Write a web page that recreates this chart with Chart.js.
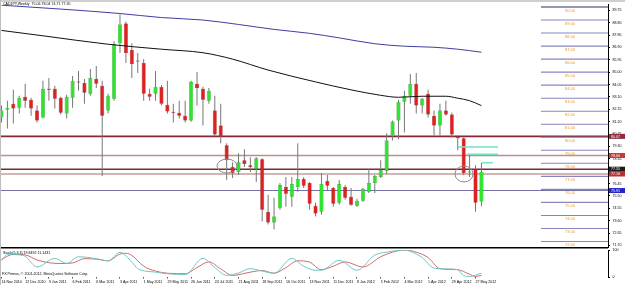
<!DOCTYPE html>
<html>
<head>
<meta charset="utf-8">
<script src="https://cdn.jsdelivr.net/npm/chart.js@4.4.1/dist/chart.umd.min.js"></script>
<style>
  html, body { margin:0; padding:0; background:#fff; }
  body { width:625px; height:285px; position:relative; overflow:hidden; }
  #mainChart { position:absolute; left:0; top:0; }
  #stochChart { position:absolute; left:0; top:244px; }
  .frameTop { position:absolute; left:0; top:0; width:625px; height:2px; background:#cfcfcf; }
  .frameLeft { position:absolute; left:0; top:0; width:1px; height:285px; background:#bdbdbd; }
</style>
</head>
<body>
<canvas id="mainChart" width="625" height="252"></canvas>
<canvas id="stochChart" width="625" height="41"></canvas>
<div class="frameTop"></div><div class="frameLeft"></div>
<script>
var symbolTitle = "CADJPY,Weekly  75.06 78.04 74.71 77.35";
var stochTitle = "Stoch(5,3,3) 19.8492 11.1431";
var copyright = "FX Primus, \u00a9 2001-2012, MetaQuotes Software Corp.";

// weekly candles, 14 Nov 2010 .. 3 Jun 2012
var opens = [81.51, 82.12, 82.58, 82.27, 83.11, 82.88, 82.05, 81.51, 83.72, 83.72,
	83.03, 81.82, 83.03, 84.25, 84.17, 83.34, 84.48, 83.95, 82.05, 82.96,
	87.22, 88.74, 86.69, 85.85, 85.70, 83.34, 83.34, 83.87, 82.50, 81.93,
	81.89, 81.66, 81.28, 84.10, 83.72, 82.81, 82.05, 80.90, 79.38, 77.71,
	77.33, 78.24, 77.86, 77.56, 78.32, 74.29, 73.45, 74.59, 76.19, 75.43,
	76.19, 76.80, 76.49, 74.74, 74.29, 76.65, 76.11, 74.97, 76.19, 75.43,
	74.74, 75.12, 75.81, 76.49, 76.95, 77.41, 80.07, 81.28, 82.73, 83.19,
	84.10, 82.43, 83.34, 81.66, 80.90, 82.05, 81.74, 80.07, 79.92, 77.30,
	77.56, 75.06];
var highs = [82.43, 82.81, 83.64, 83.19, 84.10, 83.03, 82.43, 84.33, 84.55, 83.95,
	83.11, 83.26, 84.71, 85.09, 84.48, 85.24, 85.47, 84.33, 83.34, 87.37,
	89.42, 88.89, 87.22, 86.46, 86.00, 83.72, 85.09, 84.02, 84.33, 82.58,
	82.81, 82.81, 84.33, 85.01, 83.87, 83.79, 83.19, 82.58, 79.54, 78.09,
	78.77, 79.08, 78.47, 78.47, 78.39, 75.58, 75.35, 76.49, 76.95, 76.95,
	79.54, 76.95, 76.57, 74.97, 77.25, 77.10, 76.19, 76.72, 76.34, 76.11,
	75.28, 76.11, 77.56, 77.10, 78.24, 80.30, 81.28, 82.88, 83.57, 84.86,
	84.93, 83.03, 83.64, 82.05, 82.58, 82.81, 81.89, 80.14, 79.99, 78.70,
	77.86, 78.04];
var lows = [81.13, 80.68, 81.06, 81.82, 82.27, 81.66, 81.13, 81.44, 82.81, 82.20,
	81.74, 81.44, 82.27, 83.57, 82.58, 83.19, 83.79, 77.03, 81.82, 82.81,
	86.46, 85.70, 84.55, 84.93, 82.81, 82.81, 82.81, 82.43, 81.82, 81.13,
	81.44, 81.13, 81.20, 82.43, 80.90, 82.58, 80.07, 79.54, 76.72, 76.87,
	77.10, 77.71, 77.33, 76.57, 73.53, 73.30, 72.92, 74.44, 74.67, 74.67,
	75.81, 76.11, 74.44, 73.91, 74.06, 75.96, 74.67, 74.82, 75.20, 74.74,
	74.67, 75.05, 75.73, 75.73, 76.87, 77.18, 79.76, 79.84, 80.37, 82.58,
	81.82, 81.82, 81.51, 80.14, 80.14, 81.66, 79.99, 79.00, 77.10, 76.95,
	74.29, 74.71];
var closes = [82.05, 82.27, 82.20, 83.03, 82.81, 82.20, 81.28, 83.72, 83.64, 82.96,
	81.89, 83.11, 84.33, 84.21, 83.41, 84.55, 84.10, 81.66, 83.19, 87.14,
	88.66, 86.46, 85.62, 85.81, 83.34, 83.11, 83.87, 82.58, 81.97, 81.89,
	81.66, 81.28, 84.25, 83.79, 82.88, 83.57, 80.22, 80.07, 78.24, 77.25,
	78.09, 77.94, 77.71, 78.39, 74.44, 73.45, 73.91, 76.34, 75.66, 76.42,
	76.80, 76.27, 74.90, 74.14, 76.42, 76.27, 74.90, 76.42, 75.35, 74.82,
	75.12, 76.04, 76.49, 77.03, 77.48, 79.76, 81.21, 82.73, 83.19, 84.10,
	82.43, 82.96, 81.74, 80.90, 82.05, 81.74, 80.22, 79.92, 77.25, 77.33,
	74.97, 77.35];

var dateLabels = ["14 Nov 2010", "12 Dec 2010", "9 Jan 2011", "6 Feb 2011", "6 Mar 2011",
	"3 Apr 2011", "1 May 2011", "29 May 2011", "26 Jun 2011", "24 Jul 2011", "21 Aug 2011",
	"18 Sep 2011", "16 Oct 2011", "13 Nov 2011", "11 Dec 2011", "8 Jan 2012", "5 Feb 2012",
	"4 Mar 2012", "1 Apr 2012", "29 Apr 2012", "27 May 2012"];
var dateIdx = [0, 4, 8, 12, 16, 20, 24, 28, 32, 36, 40, 44, 48, 52, 56, 60, 64, 68, 72, 76, 80];

var priceTicks = [89.75, 88.80, 87.85, 86.90, 85.95, 85.00, 84.05, 83.10, 82.15, 81.20,
	80.25, 79.30, 78.35, 77.40, 76.45, 75.50, 74.55, 73.60, 72.65, 71.70];

var blueMaIdx = [0, 10, 20, 27, 34, 40, 46, 52, 57, 63, 68, 73, 77, 81];
var blueMaVal = [90.14, 89.84, 89.50, 89.19, 89.00, 88.66, 88.28, 87.98, 87.63, 87.18, 86.99, 86.91, 86.76, 86.53];
var blackMaIdx = [0, 7, 18, 27, 34, 39, 45, 53, 59, 64, 67, 71, 75, 77, 79, 81];
var blackMaVal = [88.20, 87.79, 87.14, 86.76, 86.49, 86.00, 85.16, 84.25, 83.64, 83.22, 83.07, 83.15, 83.15, 83.00, 82.81, 82.43];

var stochMainIdx = [0, 1, 3, 4, 6, 9, 11, 13, 16, 18, 20, 22, 23, 26, 28, 31, 34, 36, 38, 40, 42, 44, 46, 49, 51, 53, 54, 57, 60, 63, 65, 68, 70, 71, 73, 75, 77, 78, 79, 81];
var stochMainVal = [60, 84, 82, 77, 37, 69, 50, 75, 68, 60, 91, 55, 31, 18, 12, 9, 69, 35, 6, 15, 31, 22, 14, 69, 40, 25, 25, 62, 25, 81, 92, 100, 85, 72, 33, 30, 27, 5, 2, 14];
var stochSignalIdx = [0, 2, 4, 6, 8, 10, 12, 14, 16, 18, 20, 21, 22, 24, 26, 28, 31, 33, 35, 37, 39, 42, 44, 46, 48, 50, 52, 54, 56, 58, 61, 64, 66, 68, 70, 72, 74, 77, 79, 80, 81];
var stochSignalVal = [65, 84, 82, 63, 53, 50, 52, 68, 66, 60, 85, 88, 80, 40, 22, 14, 12, 35, 56, 30, 6, 18, 24, 14, 35, 60, 55, 27, 40, 56, 37, 75, 92, 100, 92, 72, 31, 27, 10, 2, 6];

// horizontal levels across the whole chart
var levelPrices = [80.07, 78.60, 77.55, 77.18, 75.91];
var levelColors = ['#842838', '#c08c8c', '#7a2838', '#c49c9c', '#7272a6'];
var levelWidths = [1.6, 1.5, 1.4, 1.5, 1.1];
var boxColors = ['#8e2c3c', '#c23a3a', '#1c1c1c', '#b83232', '#2424c8'];

// grid object on the right side
var gridLevels = [90, 89, 88, 87, 86, 85, 84, 83, 82, 81, 80, 79, 78, 77, 76, 75, 74, 73, 72];
var gridStartIdx = 91.05;
var gridLabelIdx = 95.95;

// cyan stop lines [fromIdx, toIdx, price]
var cyanSegments = [[77.05, 83.8, 79.25], [78.57, 83.8, 78.70], [81.1, 82.95, 78.04]];
// ellipses [idx, price, rx px, ry px]
var circles = [[38.06, 77.79, 10, 7], [78.06, 77.18, 9, 8]];

var xMin = -0.08, xMax = 102.36;
var yMin = 71.55, yMax = 90.18;
var tinyFont = { family: 'Liberation Sans', size: 3.6 };

var bodyData = opens.map(function(o, i) { return { x: i, y: [o, closes[i]] }; });
var wickData = lows.map(function(l, i) { return { x: i, y: [l, highs[i]] }; });
var bodyFill = opens.map(function(o, i) { return closes[i] >= o ? '#2fe42f' : '#dd2020'; });
var bodyEdge = opens.map(function(o, i) { return closes[i] >= o ? '#158a15' : '#8a1010'; });

function pairs(idx, val) {
	return idx.map(function(x, i) { return { x: x, y: val[i] }; });
}

var datasets = [];
levelPrices.forEach(function(p, k) {
	datasets.push({
		type: 'line', data: [{ x: xMin, y: p }, { x: xMax, y: p }],
		borderColor: levelColors[k], borderWidth: levelWidths[k], pointRadius: 0, order: 5
	});
});
gridLevels.forEach(function(p, k) {
	datasets.push({
		type: 'line', data: [{ x: gridStartIdx, y: p }, { x: xMax, y: p }],
		borderColor: k == 0 ? '#2c2c6c' : '#8686c4', borderWidth: 1.1, pointRadius: 0, order: 4
	});
});
datasets.push({
	type: 'bar', data: wickData, backgroundColor: '#777777', grouped: false,
	maxBarThickness: 1, barPercentage: 1, order: 3
});
datasets.push({
	type: 'bar', data: bodyData, backgroundColor: bodyFill, borderColor: bodyEdge,
	borderWidth: 0.5, borderSkipped: false, grouped: false, minBarLength: 1,
	maxBarThickness: 4, barPercentage: 1, order: 2
});
datasets.push({
	type: 'line', data: pairs(blueMaIdx, blueMaVal), borderColor: '#3e3ea2', borderWidth: 1,
	pointRadius: 0, cubicInterpolationMode: 'monotone', order: 1
});
datasets.push({
	type: 'line', data: pairs(blackMaIdx, blackMaVal), borderColor: '#111111', borderWidth: 1,
	pointRadius: 0, cubicInterpolationMode: 'monotone', order: 1
});
cyanSegments.forEach(function(s) {
	datasets.push({
		type: 'line', data: [{ x: s[0], y: s[2] }, { x: s[1], y: s[2] }],
		borderColor: '#6ee6c6', borderWidth: 1.5, pointRadius: 0, order: 0
	});
});

var mainDecor = {
	id: 'mainDecor',
	afterDatasetsDraw: function(chart) {
		var ctx = chart.ctx, xs = chart.scales.x, ys = chart.scales.y, a = chart.chartArea;
		ctx.save();
		ctx.strokeStyle = '#8c8c8c';
		ctx.lineWidth = 1;
		circles.forEach(function(c) {
			ctx.beginPath();
			ctx.ellipse(xs.getPixelForValue(c[0]), ys.getPixelForValue(c[1]), c[2], c[3], 0, 0, Math.PI * 2);
			ctx.stroke();
		});
		ctx.font = '4px "Liberation Sans"';
		ctx.textBaseline = 'middle';
		ctx.textAlign = 'center';
		ctx.fillStyle = '#e69a2e';
		gridLevels.forEach(function(v) {
			ctx.fillText(v.toFixed(2), xs.getPixelForValue(gridLabelIdx), ys.getPixelForValue(v) + 3.4);
		});
		ctx.font = '3.6px "Liberation Sans"';
		ctx.textAlign = 'left';
		ctx.fillStyle = '#000';
		ctx.fillText(symbolTitle, 3, 4.2);
		ctx.strokeStyle = '#000';
		ctx.lineWidth = 1.5;
		ctx.beginPath();
		ctx.moveTo(0, a.bottom + 0.5);
		ctx.lineTo(a.right, a.bottom + 0.5);
		ctx.stroke();
		ctx.restore();
	},
	afterDraw: function(chart) {
		var ctx = chart.ctx, ys = chart.scales.y, a = chart.chartArea;
		ctx.save();
		ctx.font = '3.6px "Liberation Sans"';
		ctx.textBaseline = 'middle';
		ctx.textAlign = 'left';
		levelPrices.forEach(function(p, k) {
			var y = ys.getPixelForValue(p);
			ctx.fillStyle = boxColors[k];
			ctx.fillRect(a.right + 1, y - 2.5, 16, 5);
			ctx.fillStyle = '#fff';
			ctx.fillText(p.toFixed(2), a.right + 3, y + 0.2);
		});
		ctx.restore();
	}
};

new Chart(document.getElementById('mainChart').getContext('2d'), {
	type: 'bar',
	data: { datasets: datasets },
	plugins: [mainDecor],
	options: {
		responsive: false,
		animation: false,
		events: [],
		layout: { padding: { top: 3, left: 1, right: 0, bottom: 4 } },
		plugins: { legend: { display: false }, tooltip: { enabled: false } },
		scales: {
			x: {
				type: 'linear', min: xMin, max: xMax, display: false, offset: false,
				grid: { offset: false }
			},
			y: {
				type: 'linear', position: 'right', min: yMin, max: yMax,
				afterBuildTicks: function(scale) {
					scale.ticks = priceTicks.map(function(v) { return { value: v }; });
				},
				afterFit: function(scale) { scale.width = 17; },
				ticks: {
					font: tinyFont, color: '#000', padding: 2.5,
					callback: function(v) { return v.toFixed(2); }
				},
				grid: { drawOnChartArea: false, drawTicks: true, tickLength: 2, color: '#000' },
				border: { display: true, color: '#000', width: 1 }
			}
		}
	}
});

var stochDecor = {
	id: 'stochDecor',
	afterDraw: function(chart) {
		var ctx = chart.ctx;
		ctx.save();
		ctx.font = '3.6px "Liberation Sans"';
		ctx.textBaseline = 'middle';
		ctx.textAlign = 'left';
		ctx.fillStyle = '#000';
		ctx.fillText(stochTitle, 3, 8.6);
		ctx.fillText(copyright, 2, 30.2);
		ctx.restore();
	}
};

new Chart(document.getElementById('stochChart').getContext('2d'), {
	type: 'line',
	data: {
		datasets: [
			{
				data: pairs(stochMainIdx, stochMainVal), borderColor: '#6cc6c6', borderWidth: 1,
				pointRadius: 0, cubicInterpolationMode: 'monotone'
			},
			{
				data: pairs(stochSignalIdx, stochSignalVal), borderColor: '#d06a6a', borderWidth: 1,
				pointRadius: 0, cubicInterpolationMode: 'monotone'
			}
		]
	},
	plugins: [stochDecor],
	options: {
		responsive: false,
		animation: false,
		events: [],
		layout: { padding: { top: 6, left: 1, right: 0, bottom: 0 } },
		plugins: { legend: { display: false }, tooltip: { enabled: false } },
		scales: {
			x: {
				type: 'linear', min: xMin, max: xMax, offset: false,
				afterBuildTicks: function(scale) {
					scale.ticks = dateIdx.map(function(v) { return { value: v }; });
				},
				afterFit: function(scale) { scale.height = 8; },
				ticks: {
					font: tinyFont, color: '#000', padding: 1, align: 'start',
					autoSkip: false, maxRotation: 0,
					callback: function(v, i) { return dateLabels[i]; }
				},
				grid: { drawOnChartArea: false, drawTicks: true, tickLength: 1.5, color: '#555' },
				border: { display: false }
			},
			y: {
				type: 'linear', position: 'right', min: 0, max: 100,
				afterBuildTicks: function(scale) {
					scale.ticks = [{ value: 0 }, { value: 100 }];
				},
				afterFit: function(scale) { scale.width = 17; },
				ticks: { font: tinyFont, color: '#000', padding: 2.5 },
				grid: { drawOnChartArea: false, drawTicks: true, tickLength: 2, color: '#000' },
				border: { display: true, color: '#000', width: 1 }
			}
		}
	}
});
</script>
</body>
</html>
